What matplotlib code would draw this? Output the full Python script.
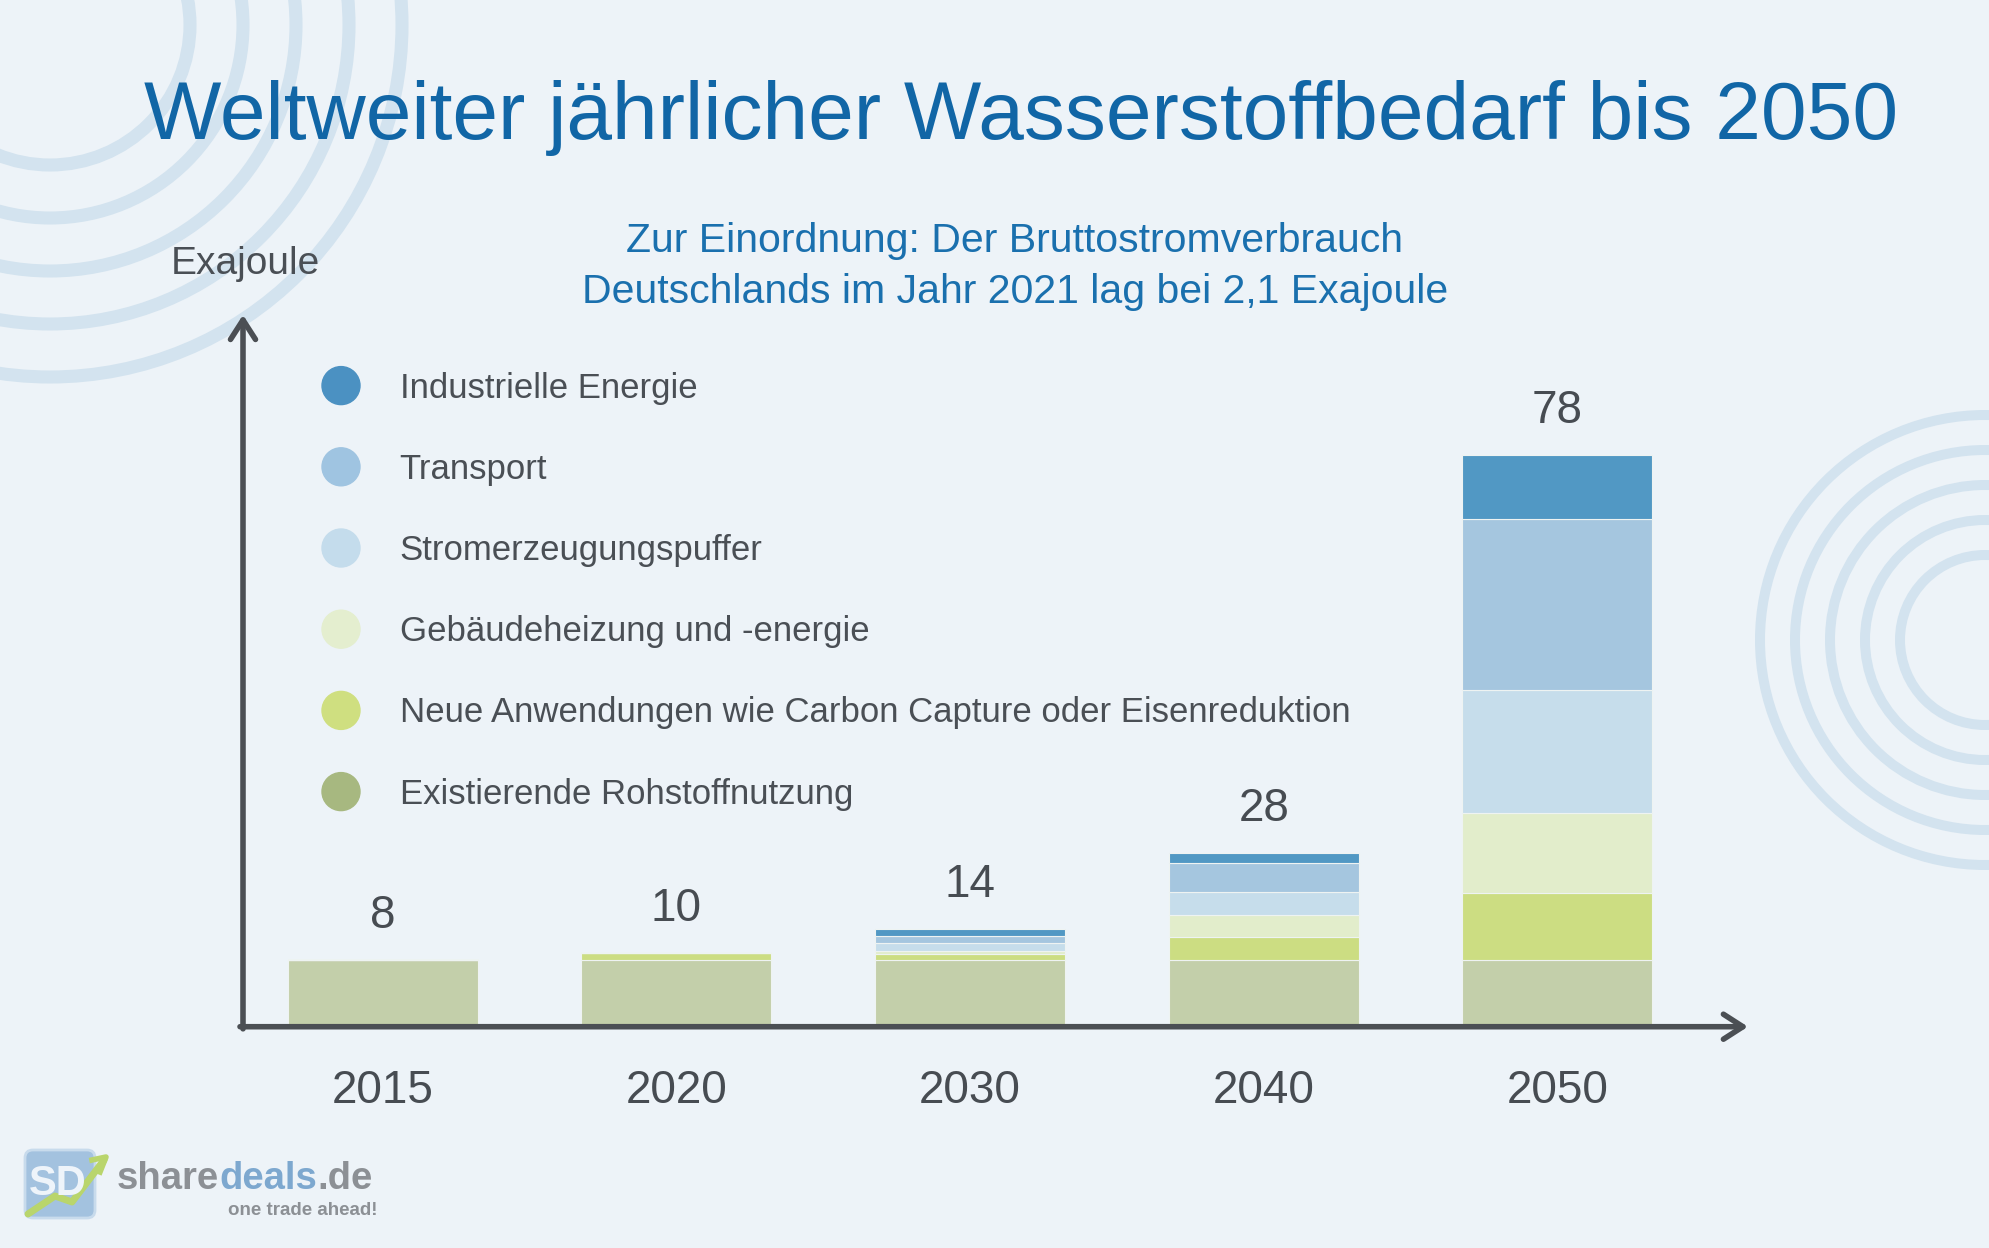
import numpy as np
import matplotlib
matplotlib.use('Agg')
from matplotlib import pyplot as plt
from matplotlib.patches import Circle, FancyBboxPatch

plt.rcParams['font.family'] = ['Liberation Sans', 'DejaVu Sans']

# Werte in Exajoule
jahre = ['2015', '2020', '2030', '2040', '2050']
summen = ['8', '10', '14', '28', '78']  # Beschriftung ueber den Balken
existierend = [9.0, 9.0, 9.0, 9.0, 9.0]
neue_anw = [0.0, 1.0, 0.9, 3.1, 9.2]
gebaeude = [0.0, 0.0, 0.3, 3.1, 10.9]
strom = [0.0, 0.0, 1.1, 3.1, 16.8]
transport = [0.0, 0.0, 1.0, 3.9, 23.4]
industrie = [0.0, 0.0, 0.9, 1.5, 8.7]

kategorien = ['Industrielle Energie', 'Transport', 'Stromerzeugungspuffer',
              'Gebäudeheizung und -energie',
              'Neue Anwendungen wie Carbon Capture oder Eisenreduktion',
              'Existierende Rohstoffnutzung']

# Farben (Legende oben -> unten)
balken_farben = ['#5198c4', '#a5c6df', '#c6ddeb', '#e2edcb', '#ccdd82', '#c3cfaa']
legende_farben = ['#4b91c2', '#9fc4e1', '#c4dcec', '#e4eecf', '#cfdf80', '#a7b880']

BG = '#edf3f8'
ARC = '#d3e3ef'
TXT = '#4a4f55'
AXC = '#4b4f54'
W, H = 1989, 1248

fig = plt.figure(figsize=(W / 100, H / 100), dpi=100)
fig.patch.set_facecolor(BG)

# Hintergrund-Ebene in Pixelkoordinaten
bg = fig.add_axes([0, 0, 1, 1])
bg.set_xlim(0, W)
bg.set_ylim(H, 0)
bg.axis('off')
bg.set_zorder(0)

# Deko-Kreise
for r in [140, 193, 246, 299, 352]:
    bg.add_patch(Circle((50, 25), r, fill=False, ec=ARC, lw=9.4))
for r in [85, 120, 155, 190, 225]:
    bg.add_patch(Circle((1985, 640), r, fill=False, ec=ARC, lw=7.2))

# Titel
bg.text(1021, 139.5, 'Weltweiter jährlicher Wasserstoffbedarf bis 2050',
        fontsize=59, ha='center', va='baseline', color='#1166a6')
bg.text(1015, 252, 'Zur Einordnung: Der Bruttostromverbrauch',
        fontsize=29.5, ha='center', va='baseline', color='#1a70ae')
bg.text(1015, 303, 'Deutschlands im Jahr 2021 lag bei 2,1 Exajoule',
        fontsize=29.5, ha='center', va='baseline', color='#1a70ae')
bg.text(171, 274, 'Exajoule', fontsize=28, va='baseline', color=TXT)

# Legende
for i, (lab, col) in enumerate(zip(kategorien, legende_farben)):
    y = 385.6 + i * 81.2
    bg.add_patch(Circle((341, y), 19, color=col))
    bg.text(399.6, y + 12, lab, fontsize=25, va='baseline', color=TXT)

# Diagramm
base_px = 1026
top_px = 317
px_per_unit = 7.32
ax = fig.add_axes([243 / W, 1 - base_px / H, (1748 - 243) / W, (base_px - top_px) / H])
ax.set_zorder(1)
ax.patch.set_alpha(0)
ax.set_xlim(-0.476, 4.649)
ax.set_ylim(0, (base_px - top_px) / px_per_unit)

x = np.arange(len(jahre))
serien = [existierend, neue_anw, gebaeude, strom, transport, industrie]
farben_unten = balken_farben[::-1]
bottom = np.zeros(len(jahre))
for werte, col in zip(serien, farben_unten):
    werte = np.array(werte)
    ax.bar(x, werte, bottom=bottom, width=0.647, color=col, edgecolor='#eef3f2', linewidth=0.8)
    bottom += werte

for xi, top, lbl in zip(x, bottom, summen):
    ax.annotate(lbl, xy=(xi, top), xytext=(0, 23), textcoords='offset points',
                ha='center', va='baseline', fontsize=33, color='#474c52')

for s in ax.spines.values():
    s.set_visible(False)
ax.set_yticks([])
ax.set_xticks(x, labels=jahre)
ax.tick_params(axis='x', length=0, pad=31, labelsize=33, labelcolor='#474c52')

# Achsen mit Pfeilen
arrow = dict(arrowstyle='->,head_length=0.7,head_width=0.45', lw=4, color=AXC,
             shrinkA=0, shrinkB=0, mutation_scale=20)
ax.annotate('', xy=(1, -0.001), xytext=(-0.002, -0.001), xycoords='axes fraction', arrowprops=arrow)
ax.annotate('', xy=(0, 1.003), xytext=(0, -0.004), xycoords='axes fraction', arrowprops=arrow)

# Logo
bg.add_patch(FancyBboxPatch((25, 1150), 70, 68, boxstyle='round,pad=0,rounding_size=8',
                            fc='#a3c2df', ec='#c8dbec', lw=2))
bg.text(58, 1184, 'SD', fontsize=30, fontweight='bold', color='#eef4fa', ha='center', va='center')
bg.plot([28, 55, 72, 104], [1214, 1196, 1202, 1160], color='#b9d56c', lw=5, solid_capstyle='round')
bg.plot([92, 106, 100], [1160, 1157, 1172], color='#b9d56c', lw=4)

fig.canvas.draw()
rend = fig.canvas.get_renderer()
xp = 117
for teil, col in [('share', '#8c9095'), ('deals', '#7da8cf'), ('.de', '#8c9095')]:
    t = bg.text(xp, 1189, teil, fontsize=27.5, fontweight='bold', color=col, va='baseline')
    xp += t.get_window_extent(rend).width
bg.text(378, 1215, 'one trade ahead!', fontsize=13.5, fontweight='bold', color='#8c9095',
        ha='right', va='baseline')

fig.savefig('out.png', dpi=100, facecolor=fig.get_facecolor())
